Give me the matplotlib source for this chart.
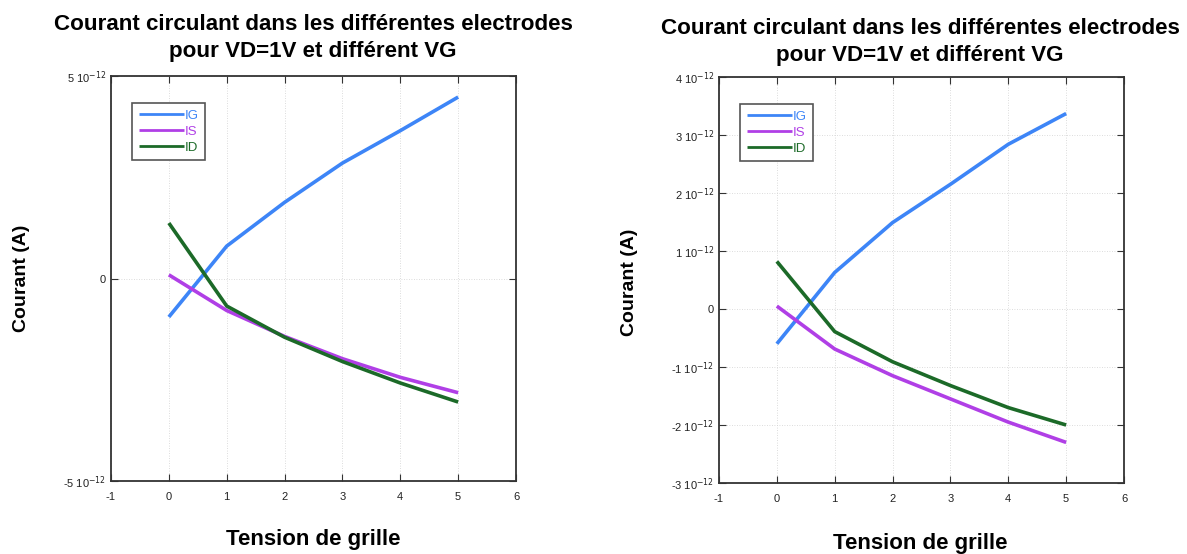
import matplotlib
matplotlib.use("Agg")
import matplotlib.pyplot as plt

plt.rcParams['font.family'] = ['Liberation Sans', 'DejaVu Sans']

vg = [0, 1, 2, 3, 4, 5]
series_names = ["IG", "IS", "ID"]

# Left chart (values in units of 1e-12 A)
left_IG = [-0.95, 0.80, 1.88, 2.85, 3.65, 4.48]
left_IS = [0.09, -0.79, -1.43, -1.98, -2.44, -2.82]
left_ID = [1.37, -0.68, -1.45, -2.05, -2.58, -3.05]

# Right chart (values in units of 1e-12 A)
right_IG = [-0.60, 0.63, 1.49, 2.15, 2.84, 3.37]
right_IS = [0.05, -0.69, -1.15, -1.55, -1.95, -2.30]
right_ID = [0.82, -0.39, -0.91, -1.32, -1.70, -2.00]

left_yticks = [-5, 0, 5]
right_yticks = [-3, -2, -1, 0, 1, 2, 3, 4]
xticks = [-1, 0, 1, 2, 3, 4, 5, 6]

title = "Courant circulant dans les différentes electrodes\npour VD=1V et différent VG"
colors = ["#3D85F7", "#B03FE6", "#1C6A28"]

W, H = 1187, 554
fig = plt.figure(figsize=(W / 100, H / 100), dpi=100)


def ylab(v):
    if v == 0:
        return "0"
    return r"%d 10$^{-12}$" % v


def make(rect, data, yticks, ylim, title_y, xlab_y, cx, leg_anchor):
    ax = fig.add_axes(rect)
    for name, d, c in zip(series_names, data, colors):
        ax.plot(vg, [v * 1e-12 for v in d], color=c, lw=2.6, label=name,
                solid_capstyle='butt')
    ax.set_xlim(-1, 6)
    ax.set_ylim(ylim[0] * 1e-12, ylim[1] * 1e-12)
    ax.set_xticks(xticks)
    ax.set_xticklabels([str(t) for t in xticks])
    ax.set_yticks([t * 1e-12 for t in yticks])
    ax.set_yticklabels([ylab(t) for t in yticks])
    ax.tick_params(direction='in', length=5, width=0.8, labelsize=8,
                   top=True, right=True, colors='#333333', labelcolor='#222222')
    ax.tick_params(axis='x', pad=8)
    ax.grid(True, linestyle=(0, (1, 2)), color='#d0d0d0', lw=0.6)
    for s in ax.spines.values():
        s.set_linewidth(1.3)
        s.set_color('#333333')
    leg = ax.legend(loc='upper left', bbox_to_anchor=leg_anchor, fontsize=9.5,
                    handlelength=3.4, handletextpad=0.1, borderpad=0.5,
                    labelspacing=0.28, fancybox=False, framealpha=1,
                    edgecolor='#555555', borderaxespad=0)
    leg.get_frame().set_linewidth(1.2)
    for t, c in zip(leg.get_texts(), colors):
        t.set_color(c)
    for ln in leg.get_lines():
        ln.set_linewidth(2.0)
    fig.text(cx / W, 1 - title_y / H, title, ha='center', va='center',
             fontsize=16.1, fontweight='bold', linespacing=1.42)
    fig.text(cx / W, 1 - xlab_y / H, "Tension de grille", ha='center',
             va='center', fontsize=16, fontweight='bold')
    return ax


ax1 = make([111 / W, 1 - 481 / H, 405 / W, 405 / H],
           [left_IG, left_IS, left_ID], left_yticks, (-5, 5),
           38, 540, 313, (0.052, 0.933))
fig.text(22 / W, 1 - 278 / H, "Courant (A)", rotation=90, ha='center',
         va='center', fontsize=14, fontweight='bold')

ax2 = make([719 / W, 1 - 483 / H, 405 / W, 406 / H],
           [right_IG, right_IS, right_ID], right_yticks, (-3, 4),
           42, 544, 920, (0.052, 0.933))
fig.text(630 / W, 1 - 282 / H, "Courant (A)", rotation=90, ha='center',
         va='center', fontsize=14, fontweight='bold')

fig.savefig("out.png", dpi=100)
